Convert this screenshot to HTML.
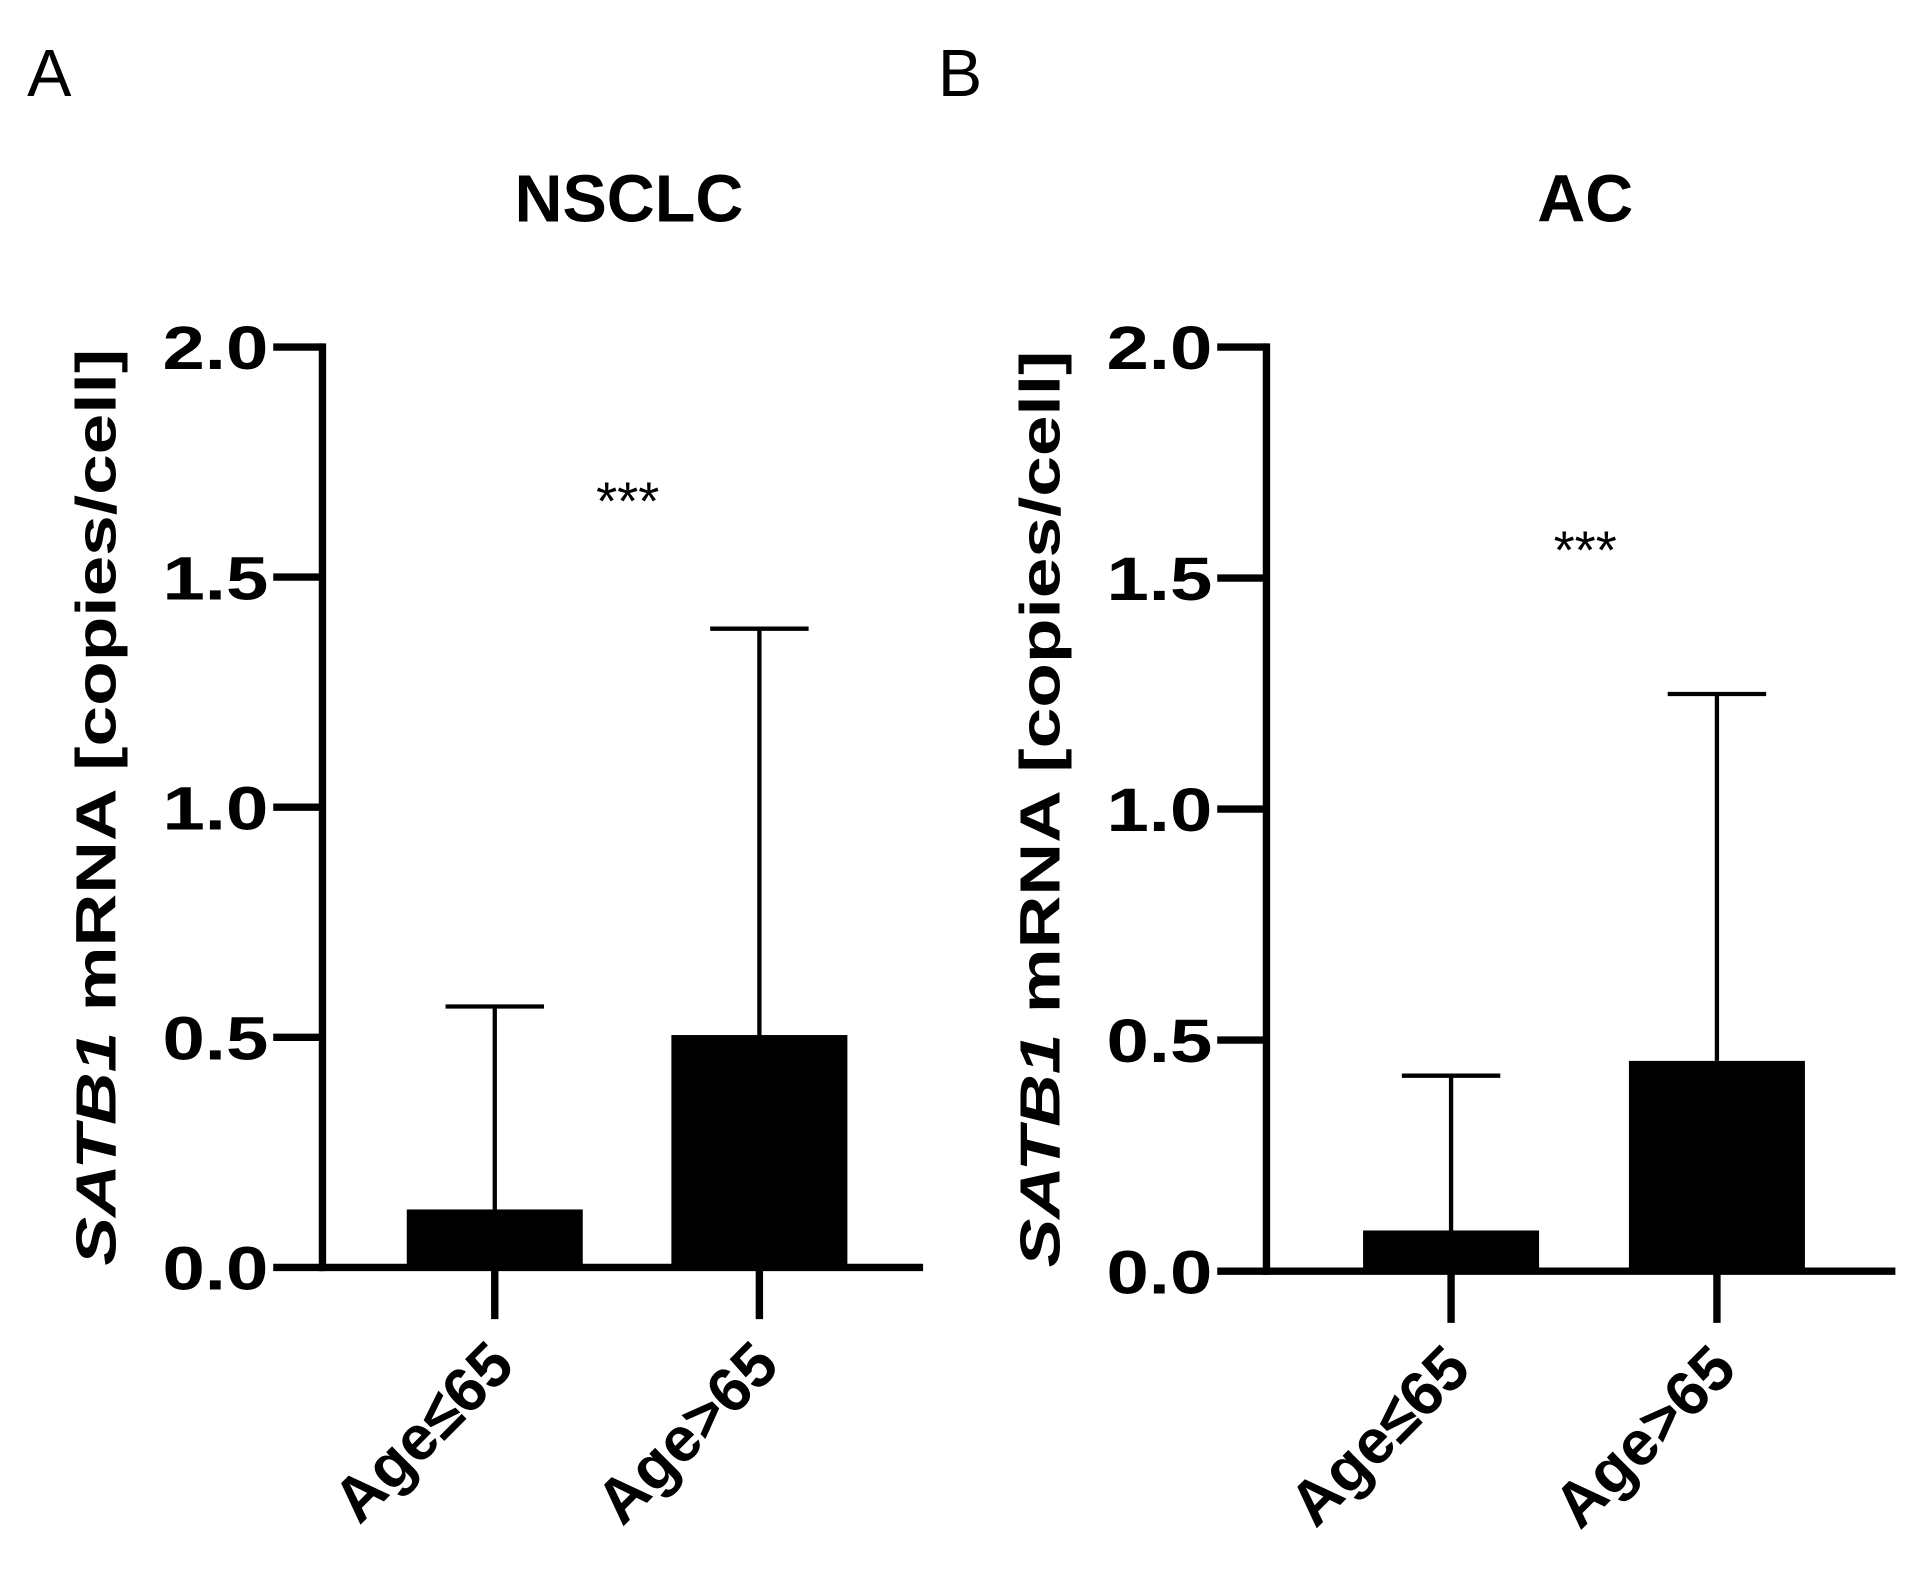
<!DOCTYPE html>
<html><head><meta charset="utf-8"><style>
html,body{margin:0;padding:0;background:#fff;width:1920px;height:1580px;overflow:hidden}
svg{display:block}
text{font-family:"Liberation Sans",Arial,sans-serif;fill:#000}
</style></head><body>
<svg id="fig" width="1920" height="1580" viewBox="0 0 1560 1284" preserveAspectRatio="none" xmlns="http://www.w3.org/2000/svg">
<text x="22" y="78" font-size="54">A</text>
<text x="762" y="78" font-size="54">B</text>
</svg>
<script>
const categories = ["Age≤65", "Age>65"];
const nsclcMeans = [0.126, 0.505];
const nsclcErrTops = [0.567, 1.388];
const acMeans = [0.088, 0.455];
const acErrTops = [0.423, 1.249];
const yTicks = [0, 0.5, 1.0, 1.5, 2.0];
const yTickLabels = ["0.0", "0.5", "1.0", "1.5", "2.0"];

const NS = "http://www.w3.org/2000/svg";
const svg = document.getElementById('fig');
function mk(tag, attrs, parent) {
  const e = document.createElementNS(NS, tag);
  for (const k in attrs) e.setAttribute(k, attrs[k]);
  (parent || svg).appendChild(e);
  return e;
}
function panel(cfg) {
  const g = mk('g', {});
  
  
  const y = v => cfg.y0 - (v / 2.0) * (cfg.y0 - cfg.y2);
  const x = i => cfg.xCenters[i];
  const t = mk('text', {x: cfg.titleX, y: 180, 'font-size': 54, 'font-weight': 'bold', 'text-anchor': 'middle'}, g);
  t.textContent = cfg.title;
  
  
  const ya = mk('line', {x1: cfg.ax, y1: y(2.0) - 3, x2: cfg.ax, y2: y(0) + 3, stroke: '#000', 'stroke-width': 6}, g);
  
  
  yTicks.forEach((v, i) => {
    const tk = mk('line', {x1: cfg.ax - 40, y1: y(v), x2: cfg.ax, y2: y(v), stroke: '#000', 'stroke-width': 6}, g);
    
    
    const tl = mk('text', {x: cfg.ax - 44, y: y(v) + 18, 'font-size': 50, 'font-weight': 'bold', 'text-anchor': 'end', textLength: 86, lengthAdjust: 'spacingAndGlyphs'}, g);
    tl.textContent = yTickLabels[i];
    
    
  });
  const yt = mk('text', {transform: `translate(${cfg.ax - 168},${(y(0) + y(2)) / 2}) rotate(-90)`, 'font-size': 46, 'font-weight': 'bold', 'text-anchor': 'middle', textLength: 745, lengthAdjust: 'spacingAndGlyphs'}, g);
  yt.innerHTML = '<tspan font-style="italic">SATB1</tspan> mRNA [copies/cell]';
  
  
  cfg.means.forEach((m, i) => {
    const bw = 143;
    const b = mk('rect', {x: x(i) - bw / 2, y: y(m), width: bw, height: y(0) - y(m), fill: '#000'}, g);
    
    
    const e = mk('line', {x1: x(i), y1: y(m), x2: x(i), y2: y(cfg.errs[i]), stroke: '#000', 'stroke-width': 3.5}, g);
    
    
    const c = mk('line', {x1: x(i) - 40, y1: y(cfg.errs[i]), x2: x(i) + 40, y2: y(cfg.errs[i]), stroke: '#000', 'stroke-width': 3.5}, g);
    
    
    const xt = mk('line', {x1: x(i), y1: y(0), x2: x(i), y2: y(0) + 42, stroke: '#000', 'stroke-width': 6}, g);
    
    
    const cl = mk('text', {transform: `translate(${x(i) + 18},${y(0) + 82}) rotate(-45)`, 'font-size': 51, 'font-weight': 'bold', 'text-anchor': 'end'}, g);
    cl.textContent = categories[i];
    
    
  });
  const xa = mk('line', {x1: cfg.ax - 3, y1: y(0), x2: cfg.xEnd, y2: y(0), stroke: '#000', 'stroke-width': 6}, g);
  
  
  const s = mk('text', {x: cfg.starX, y: cfg.starY + 22, 'font-size': 44, 'text-anchor': 'middle'}, g);
  s.textContent = '***';
  
  
}
panel({name: 'panel-a-nsclc', title: 'NSCLC', titleX: 511, ax: 262, y0: 1030, y2: 282, xEnd: 750, xCenters: [402, 617], means: nsclcMeans, errs: nsclcErrTops, starX: 510, starY: 400});
panel({name: 'panel-b-ac', title: 'AC', titleX: 1288, ax: 1029, y0: 1033, y2: 282, xEnd: 1540, xCenters: [1179, 1395], means: acMeans, errs: acErrTops, starX: 1288, starY: 440});
</script>
</body></html>
